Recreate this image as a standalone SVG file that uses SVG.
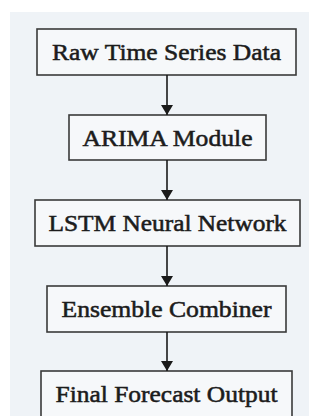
<svg xmlns="http://www.w3.org/2000/svg" width="323" height="416" viewBox="0 0 323 416">
<defs>
<style>
.box{fill:#f6f8fa;stroke:#3a3a3a;stroke-width:1.6}
.lbl{font-family:"Liberation Serif","Times New Roman",serif;font-size:24px;fill:#1c1c1c;stroke:#1c1c1c;stroke-width:0.55;text-anchor:middle}
.edge{stroke:#1a1a1a;stroke-width:1.6;fill:none}
</style>
<marker id="ah" viewBox="0 0 10 12" refX="10" refY="6" markerWidth="10" markerHeight="12" markerUnits="userSpaceOnUse" orient="auto">
<path d="M0,0 L10,6 L0,12 Z" fill="#1a1a1a"/>
</marker>
</defs>
<rect x="0" y="0" width="323" height="416" fill="#ffffff"/>
<rect x="10" y="12" width="299" height="404" fill="#eff3f7"/>
<g id="n1"><rect class="box" x="37" y="29" width="259" height="46"/><text class="lbl" x="166.5" y="60" textLength="229" lengthAdjust="spacingAndGlyphs">Raw Time Series Data</text></g>
<g id="n2"><rect class="box" x="69" y="115" width="197" height="45"/><text class="lbl" x="167.5" y="146" textLength="170" lengthAdjust="spacingAndGlyphs">ARIMA Module</text></g>
<g id="n3"><rect class="box" x="35" y="200" width="265" height="46"/><text class="lbl" x="167.5" y="231" textLength="238" lengthAdjust="spacingAndGlyphs">LSTM Neural Network</text></g>
<g id="n4"><rect class="box" x="47" y="286" width="239" height="46"/><text class="lbl" x="166.5" y="317" textLength="210" lengthAdjust="spacingAndGlyphs">Ensemble Combiner</text></g>
<g id="n5"><rect class="box" x="41" y="371" width="251" height="50"/><text class="lbl" x="166.5" y="402" textLength="222" lengthAdjust="spacingAndGlyphs">Final Forecast Output</text></g>
<g id="edges">
<line class="edge" x1="167" y1="75" x2="167" y2="115" marker-end="url(#ah)"/>
<line class="edge" x1="167" y1="160" x2="167" y2="200" marker-end="url(#ah)"/>
<line class="edge" x1="167" y1="246" x2="167" y2="286" marker-end="url(#ah)"/>
<line class="edge" x1="167" y1="332" x2="167" y2="371" marker-end="url(#ah)"/>
</g>
</svg>
